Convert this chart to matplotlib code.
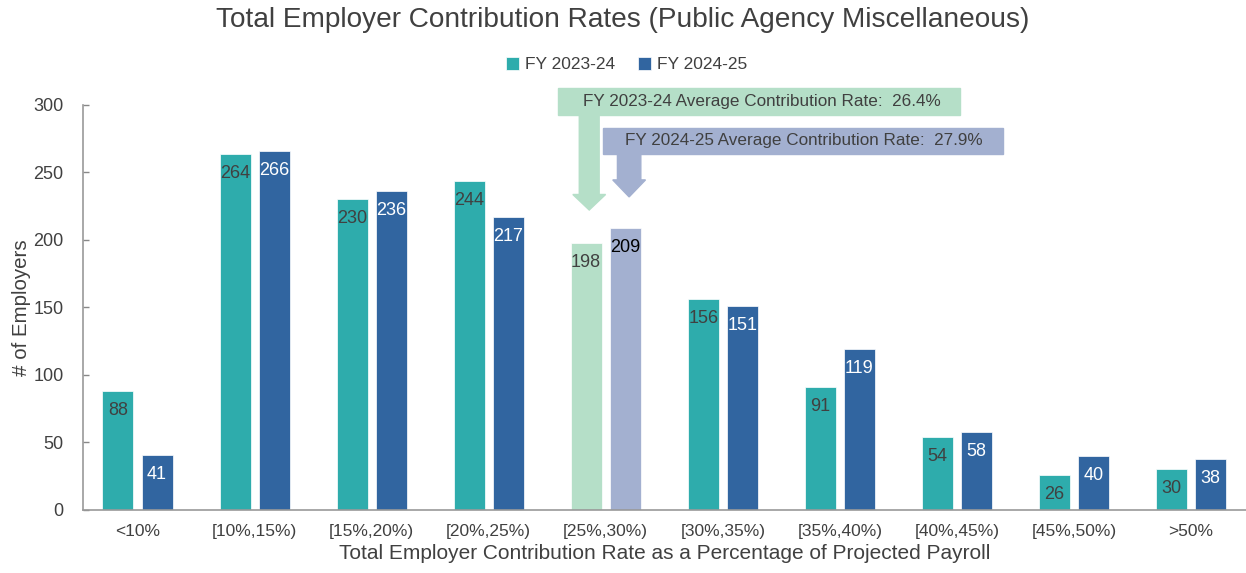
import numpy as np
import matplotlib
matplotlib.use("Agg")
import matplotlib.pyplot as plt
from matplotlib.patches import Rectangle, FancyArrow

categories = ["<10%", "[10%,15%)", "[15%,20%)", "[20%,25%)", "[25%,30%)",
              "[30%,35%)", "[35%,40%)", "[40%,45%)", "[45%,50%)", ">50%"]
fy2324 = [88, 264, 230, 244, 198, 156, 91, 54, 26, 30]
fy2425 = [41, 266, 236, 217, 209, 151, 119, 58, 40, 38]
avg_2324 = 26.4
avg_2425 = 27.9
highlight = 4

plt.rcParams["font.family"] = ["Liberation Sans", "DejaVu Sans"]

teal = "#2eacac"
blue = "#3165a0"
light_teal = "#b5dfc8"
light_blue = "#a3b0d0"
dark = "#404040"

fig = plt.figure(figsize=(12.46, 5.73), dpi=100)
ax = fig.add_axes([0.0666, 0.110, 0.933, 0.7068])

x = np.arange(len(categories))
w = 0.265
off = 0.167
c1 = [light_teal if i == highlight else teal for i in x]
c2 = [light_blue if i == highlight else blue for i in x]
b1 = ax.bar(x - off, fy2324, w, color=c1, edgecolor="white", linewidth=0.5, label="FY 2023-24")
b2 = ax.bar(x + off, fy2425, w, color=c2, edgecolor="white", linewidth=0.5, label="FY 2024-25")

for i, (bar, v) in enumerate(zip(b1, fy2324)):
    ax.annotate(str(v), (bar.get_x() + bar.get_width() / 2, v), xytext=(0, -14),
                textcoords="offset points", ha="center", va="center", fontsize=13, color=dark)
for i, (bar, v) in enumerate(zip(b2, fy2425)):
    col = "black" if i == highlight else "white"
    ax.annotate(str(v), (bar.get_x() + bar.get_width() / 2, v), xytext=(0, -14),
                textcoords="offset points", ha="center", va="center", fontsize=13, color=col)

ax.set_xlim(-0.466, 9.466)
ax.set_ylim(0, 300)
ax.set_yticks(range(0, 301, 50))
ax.set_xticks(x)
ax.set_xticklabels(categories)
ax.tick_params(axis="x", length=0, pad=10, labelsize=12.5, colors="#404040")
ax.tick_params(axis="y", direction="in", length=4, width=1, color="#888888",
               labelsize=13, labelcolor="#404040", pad=14)
for s in ["top", "right"]:
    ax.spines[s].set_visible(False)
for s in ["left", "bottom"]:
    ax.spines[s].set_color("#999999")
    ax.spines[s].set_linewidth(1.2)

ax.set_ylabel("# of Employers", fontsize=14.8, color="#404040", labelpad=2)
ax.set_xlabel("Total Employer Contribution Rate as a Percentage of Projected Payroll",
              fontsize=15, color="#404040", labelpad=4)

fig.suptitle("Total Employer Contribution Rates (Public Agency Miscellaneous)",
             fontsize=20.2, color="#404040", y=0.987)
fig.legend(handles=[b1, b2], loc="center", bbox_to_anchor=(0.503, 0.887), ncol=2,
           frameon=False, fontsize=12.5, handlelength=0.75, handleheight=0.75,
           handletextpad=0.35, columnspacing=1.3, labelcolor="#404040")

# average rate call-outs
ax.add_patch(Rectangle((3.594, 292.6), 7.03 - 3.594, 20.0, color=light_teal,
                       clip_on=False, zorder=3))
ax.add_patch(FancyArrow(3.859, 292.6, 0, -(292.6 - 222.2), width=0.17, head_width=0.28,
                        head_length=11.5, length_includes_head=True, color=light_teal,
                        clip_on=False, zorder=3))
ax.text(5.33, 302.6, f"FY 2023-24 Average Contribution Rate:  {avg_2324}%",
        ha="center", va="center", fontsize=12.3, color=dark, zorder=4)

ax.add_patch(Rectangle((3.979, 263.7), 7.397 - 3.979, 19.3, color=light_blue,
                       clip_on=False, zorder=3))
ax.add_patch(FancyArrow(4.2, 263.7, 0, -(263.7 - 231.9), width=0.2, head_width=0.28,
                        head_length=12.6, length_includes_head=True, color=light_blue,
                        clip_on=False, zorder=3))
ax.text(5.69, 273.4, f"FY 2024-25 Average Contribution Rate:  {avg_2425}%",
        ha="center", va="center", fontsize=12.3, color=dark, zorder=4)

fig.savefig("out.png", dpi=100)
